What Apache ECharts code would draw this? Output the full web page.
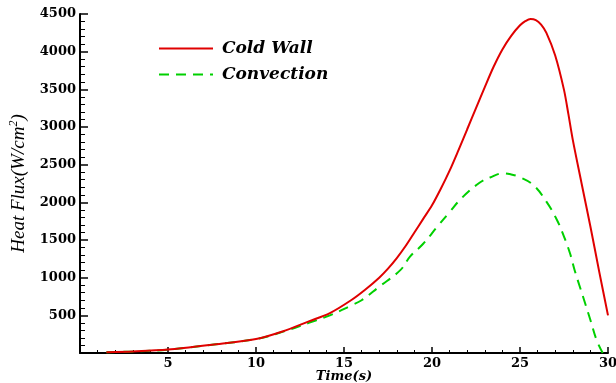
<!DOCTYPE html>
<html>
<head>
<meta charset="utf-8">
<script src="https://cdn.jsdelivr.net/npm/echarts@6/dist/echarts.min.js"></script>
<style>
  html, body { margin: 0; padding: 0; background: #fff; }
  #chart { width: 616px; height: 383px; }
</style>
</head>
<body>
<div id="chart"></div>
<script>
// Time (s) and heat flux (W/cm^2) samples for each curve
const coldWallTime = [1.5, 3, 5, 7.5, 10, 11.5, 13, 14.2, 15.4, 16.2, 17, 17.5, 18, 18.5, 19, 19.5, 20, 20.5, 21, 21.5, 22, 22.5, 23, 23.5, 24, 24.5, 25, 25.3, 25.6, 25.9, 26.2, 26.5, 27, 27.5, 27.75, 28, 28.5, 29, 29.5, 30];
const coldWallFlux = [10, 20, 45, 110, 185, 285, 420, 530, 700, 840, 1000, 1120, 1260, 1420, 1600, 1780, 1960, 2180, 2420, 2690, 2970, 3250, 3530, 3800, 4030, 4210, 4350, 4405, 4435, 4420, 4360, 4250, 3950, 3493, 3170, 2829, 2250, 1680, 1080, 500];

const convectionTime = [1.5, 3, 5, 7.5, 10, 11.5, 13, 14.2, 15.4, 16, 17, 18.2, 18.75, 19.5, 20.3, 21, 21.7, 22.7, 23.3, 24.05, 24.5, 25, 25.75, 26.5, 27.1, 27.5, 27.84, 28.1, 28.4, 28.7, 29, 29.35, 29.7];
const convectionFlux = [10, 20, 45, 110, 185, 280, 400, 500, 630, 700, 880, 1100, 1279, 1450, 1677, 1870, 2060, 2260, 2330, 2386, 2370, 2333, 2231, 2010, 1766, 1545, 1324, 1102, 880, 660, 438, 173, 0];

const seriesNames = ['Cold Wall', 'Convection'];
const xTicks = [5, 10, 15, 20, 25, 30];
const yTicks = [500, 1000, 1500, 2000, 2500, 3000, 3500, 4000, 4500];

const pair = (xs, ys) => xs.map((x, i) => [x, ys[i]]);

const serifBold = { fontFamily: 'DejaVu Serif', fontWeight: 'bold', color: '#000' };

const chart = echarts.init(document.getElementById('chart'));
chart.setOption({
  backgroundColor: '#fff',
  animation: false,
  grid: { left: 80, right: 8, top: 14, bottom: 30, containLabel: false, outerBoundsMode: 'none' },
  legend: {
    orient: 'vertical',
    left: 158,
    top: 40,
    padding: 0,
    itemWidth: 54,
    itemHeight: 16,
    itemGap: 9,
    itemStyle: { opacity: 0 },
    textStyle: { fontFamily: 'DejaVu Serif', fontStyle: 'italic', fontWeight: 'bold', fontSize: 17, color: '#000', padding: [0, 0, 0, 4] },
    data: seriesNames
  },
  xAxis: {
    type: 'value',
    min: 0,
    max: 30,
    interval: 5,
    name: 'Time(s)',
    nameLocation: 'middle',
    nameGap: 17,
    nameMoveOverlap: false,
    nameTextStyle: { fontFamily: 'DejaVu Serif', fontStyle: 'italic', fontWeight: 'bold', fontSize: 13, color: '#000' },
    axisLine: { lineStyle: { color: '#000', width: 2 } },
    axisTick: { inside: true, length: 6, lineStyle: { color: '#000', width: 1.5 } },
    minorTick: { show: true, splitNumber: 5, length: 3, lineStyle: { color: '#000', width: 1 } },
    splitLine: { show: false },
    axisLabel: {
      ...serifBold, fontSize: 13, margin: 4,
      formatter: v => (xTicks.includes(v) ? String(v) : '')
    }
  },
  yAxis: {
    type: 'value',
    min: 0,
    max: 4500,
    interval: 500,
    name: 'Heat Flux(W/cm{sup|2})',
    nameLocation: 'middle',
    nameRotate: 90,
    nameGap: 50,
    nameMoveOverlap: false,
    nameTextStyle: {
      fontFamily: 'Liberation Serif', fontStyle: 'italic', fontSize: 19, color: '#000',
      rich: { sup: { fontFamily: 'Liberation Serif', fontStyle: 'italic', fontSize: 12, verticalAlign: 'top', padding: [0, 0, 10, 0], color: '#000' } }
    },
    axisLine: { show: true, lineStyle: { color: '#000', width: 2 } },
    axisTick: { show: true, inside: true, length: 8, lineStyle: { color: '#000', width: 1.5 } },
    minorTick: { show: true, splitNumber: 5, length: 5, lineStyle: { color: '#000', width: 1 } },
    splitLine: { show: false },
    axisLabel: {
      ...serifBold, fontSize: 13, margin: 4,
      formatter: v => (yTicks.includes(v) ? String(v) : '')
    }
  },
  series: [
    {
      name: seriesNames[0],
      type: 'line',
      data: pair(coldWallTime, coldWallFlux),
      smooth: 0.3,
      symbol: 'none',
      color: '#e00000',
      lineStyle: { color: '#e00000', width: 2 },
      z: 3
    },
    {
      name: seriesNames[1],
      type: 'line',
      data: pair(convectionTime, convectionFlux),
      smooth: 0.4,
      symbol: 'none',
      color: '#00d000',
      lineStyle: { color: '#00d000', width: 2, type: [10, 7] },
      z: 2
    }
  ]
});
</script>
</body>
</html>
